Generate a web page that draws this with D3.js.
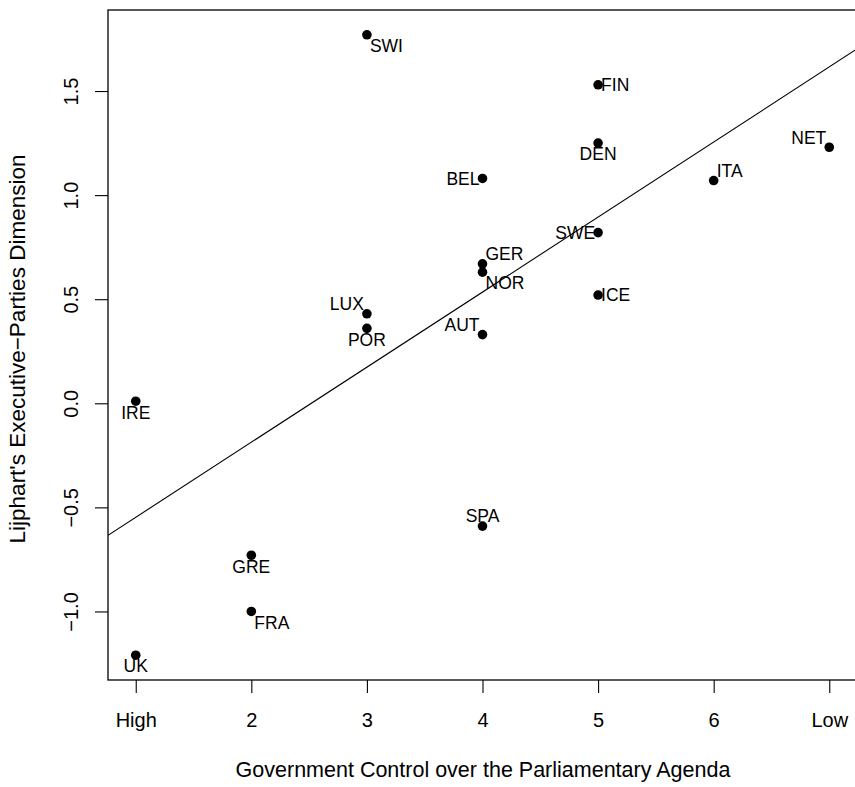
<!DOCTYPE html>
<html>
<head>
<meta charset="utf-8">
<script src="https://cdn.jsdelivr.net/npm/d3@7"></script>
<style>
  body { margin: 0; background: #fff; }
  text { font-family: "Liberation Sans", Arial, Helvetica, sans-serif; fill: #000; }
</style>
</head>
<body>
<script>
// countries, agenda control (1 = high ... 7 = low) and Lijphart's executive-parties score
const countries = ["SWI", "FIN", "DEN", "NET", "BEL", "ITA", "SWE", "GER", "NOR",
  "ICE", "LUX", "POR", "AUT", "IRE", "SPA", "GRE", "FRA", "UK"];
const agenda = [3, 5, 5, 7, 4, 6, 5, 4, 4, 5, 3, 3, 4, 1, 4, 2, 2, 1];
const execParties = [1.77, 1.53, 1.25, 1.23, 1.08, 1.07, 0.82, 0.67, 0.63,
  0.52, 0.43, 0.36, 0.33, 0.01, -0.59, -0.73, -1.00, -1.21];

const xTicks = [1, 2, 3, 4, 5, 6, 7];
const xTickLabels = ["High", "2", "3", "4", "5", "6", "Low"];
const yTicks = [-1.0, -0.5, 0.0, 0.5, 1.0, 1.5];

// where each label sits around its dot (t/b = above/below, l/r = left/right)
const labelPos = {
  SWI: "br", FIN: "r", DEN: "b", NET: "tl", BEL: "l", ITA: "tr", SWE: "l",
  GER: "tr", NOR: "br", ICE: "r", LUX: "tl", POR: "b", AUT: "tl", IRE: "b",
  SPA: "t", GRE: "b", FRA: "br", UK: "b"
};

const W = 855, H = 787;
const mLeft = 108, mTop = 10, mBottom = 680, mRight = 857;

const svg = d3.select("body").append("svg")
  .attr("width", W)
  .attr("height", H);

// R style 4% padding on both axes
const pad = (lo, hi) => [lo - (hi - lo) * 0.04, hi + (hi - lo) * 0.04];
const x = d3.scaleLinear().domain(pad(d3.min(agenda), d3.max(agenda))).range([mLeft, mRight]);
const y = d3.scaleLinear().domain(pad(d3.min(execParties), d3.max(execParties))).range([mBottom, mTop]);

svg.append("clipPath").attr("id", "plot")
  .append("rect").attr("x", mLeft).attr("y", mTop)
  .attr("width", mRight - mLeft).attr("height", mBottom - mTop);

// least squares fit
const mx = d3.mean(agenda), my = d3.mean(execParties);
const sxy = d3.sum(agenda, (d, i) => (d - mx) * (execParties[i] - my));
const sxx = d3.sum(agenda, d => (d - mx) * (d - mx));
const slope = sxy / sxx, icept = my - slope * mx;
const [x0, x1] = x.domain();

svg.append("line")
  .attr("clip-path", "url(#plot)")
  .attr("x1", x(x0)).attr("y1", y(icept + slope * x0))
  .attr("x2", x(x1)).attr("y2", y(icept + slope * x1))
  .attr("stroke", "#000").attr("stroke-width", 1.1);

// points
svg.append("g").selectAll("circle")
  .data(countries)
  .join("circle")
  .attr("cx", (d, i) => x(agenda[i]))
  .attr("cy", (d, i) => y(execParties[i]))
  .attr("r", 4.8)
  .attr("fill", "#000");

// labels
svg.append("g").selectAll("text")
  .data(countries)
  .join("text")
  .attr("x", (d, i) => {
    const p = labelPos[d], px = x(agenda[i]);
    if (p.includes("l")) return px - 3;
    if (p.includes("r")) return px + 3;
    return px;
  })
  .attr("y", (d, i) => {
    const p = labelPos[d], py = y(execParties[i]);
    if (p.includes("t")) return py - 10;
    if (p.includes("b")) return py + 11;
    return py;
  })
  .attr("dy", "0.36em")
  .attr("text-anchor", d => {
    const p = labelPos[d];
    return p.includes("l") ? "end" : p.includes("r") ? "start" : "middle";
  })
  .style("font-size", "17.5px")
  .text(d => d);

// box
svg.append("rect")
  .attr("x", mLeft).attr("y", mTop)
  .attr("width", mRight - mLeft).attr("height", mBottom - mTop)
  .attr("fill", "none").attr("stroke", "#000").attr("stroke-width", 1.3);

// x axis
const xAxis = svg.append("g")
  .attr("transform", `translate(0,${mBottom})`)
  .call(d3.axisBottom(x).tickValues(xTicks).tickSize(13).tickSizeOuter(0)
    .tickFormat((d, i) => xTickLabels[i]));
xAxis.select(".domain").remove();
xAxis.selectAll("line").attr("stroke-width", 1.1);
xAxis.selectAll("text")
  .attr("y", 47).attr("dy", null)
  .style("font-size", "20px");
xAxis.attr("font-family", null).attr("font-size", null);

// y axis, labels turned parallel to the axis like R
const yAxis = svg.append("g")
  .attr("transform", `translate(${mLeft},0)`)
  .call(d3.axisLeft(y).tickValues(yTicks).tickSize(13).tickSizeOuter(0)
    .tickFormat(d => d3.format(".1f")(d)));
yAxis.select(".domain").remove();
yAxis.selectAll("line").attr("stroke-width", 1.1);
yAxis.selectAll("text")
  .attr("x", null).attr("dy", null)
  .attr("text-anchor", "middle")
  .attr("transform", "translate(-30,0) rotate(-90)")
  .style("font-size", "20px");
yAxis.attr("font-family", null).attr("font-size", null);

// axis titles
svg.append("text")
  .attr("x", 483).attr("y", 777)
  .attr("text-anchor", "middle")
  .style("font-size", "21.5px")
  .text("Government Control over the Parliamentary Agenda");

svg.append("text")
  .attr("transform", "translate(25,349) rotate(-90)")
  .attr("text-anchor", "middle")
  .style("font-size", "22.5px")
  .text("Lijphart's Executive\u2212Parties Dimension");
</script>
</body>
</html>
